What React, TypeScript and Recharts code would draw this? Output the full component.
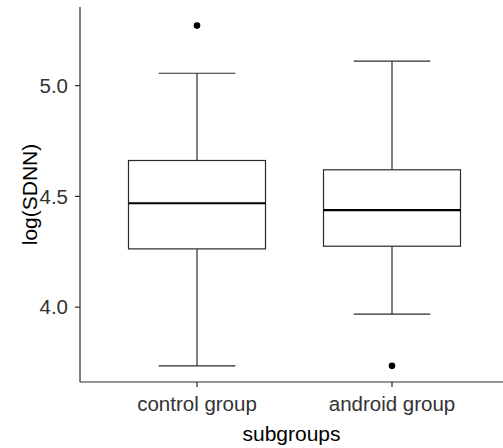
import { ComposedChart, Bar, Scatter, XAxis, YAxis, Label } from 'recharts';

// box statistics (log SDNN)
const groups = ['control group', 'android group'];
const lowerWhisker = [3.735, 3.968];
const q1 = [4.263, 4.275];
const median = [4.469, 4.438];
const q3 = [4.662, 4.62];
const upperWhisker = [5.056, 5.111];
const outliers = [5.271, 3.735];

const yTicks = [4.0, 4.5, 5.0];
const yDomain = [3.662, 5.355];

const data = groups.map((group, i) => ({
  group,
  range: [lowerWhisker[i], upperWhisker[i]],
  min: lowerWhisker[i],
  q1: q1[i],
  median: median[i],
  q3: q3[i],
  max: upperWhisker[i],
  outlier: outliers[i],
}));

const FONT = '"Liberation Sans", Arial, sans-serif';
const LINE = '#2b2b2b';

// draws whiskers, box and median inside the bar the library placed from min to max
const BoxShape = (props: any) => {
  const { x, y, width, height, payload } = props;
  const top = Math.min(y, y + height);
  const bottom = Math.max(y, y + height);
  const px = (v: number) =>
    bottom - ((v - payload.min) / (payload.max - payload.min)) * (bottom - top);
  const cx = x + width / 2;
  const cap = width * 0.28;
  const yQ1 = px(payload.q1);
  const yQ3 = px(payload.q3);
  const yMed = px(payload.median);
  return (
    <g>
      <line x1={cx} x2={cx} y1={top} y2={yQ3} stroke={LINE} strokeWidth={1.2} />
      <line x1={cx} x2={cx} y1={yQ1} y2={bottom} stroke={LINE} strokeWidth={1.2} />
      <line x1={cx - cap} x2={cx + cap} y1={top} y2={top} stroke={LINE} strokeWidth={1.2} />
      <line x1={cx - cap} x2={cx + cap} y1={bottom} y2={bottom} stroke={LINE} strokeWidth={1.2} />
      <rect x={x} y={yQ3} width={width} height={yQ1 - yQ3} fill="#fff" stroke={LINE} strokeWidth={1.2} />
      <line x1={x} x2={x + width} y1={yMed} y2={yMed} stroke="#000" strokeWidth={2.2} />
    </g>
  );
};

const Dot = (props: any) => <circle cx={props.cx} cy={props.cy} r={3.3} fill="#000" />;

export default function App() {
  return (
    <div style={{ width: 503, height: 448 }}>
      <style>{'body{margin:0}'}</style>
      <ComposedChart
        width={503}
        height={448}
        data={data}
        margin={{ top: 7, right: 0, bottom: 0, left: 0 }}
      >
        <XAxis
          dataKey="group"
          height={66}
          padding={{ left: 19.5, right: 13.5 }}
          axisLine={{ stroke: LINE, strokeWidth: 1.2 }}
          tickLine={{ stroke: LINE, strokeWidth: 1.2 }}
          tickSize={5}
          tickMargin={9}
          tick={{ fill: '#333', fontSize: 20.5, fontFamily: FONT }}
        >
          <Label
            value="subgroups"
            position="insideBottom"
            offset={7}
            style={{ fill: '#000', fontSize: 21, fontFamily: FONT }}
          />
        </XAxis>
        <YAxis
          type="number"
          width={80}
          domain={yDomain}
          ticks={yTicks}
          allowDataOverflow
          tickFormatter={(v: number) => v.toFixed(1)}
          axisLine={{ stroke: LINE, strokeWidth: 1.2 }}
          tickLine={{ stroke: LINE, strokeWidth: 1.2 }}
          tickSize={5}
          tickMargin={7}
          tick={{ fill: '#333', fontSize: 20.5, fontFamily: FONT }}
        >
          <Label
            value="log(SDNN)"
            angle={-90}
            position="insideLeft"
            offset={0}
            dx={30}
            style={{ fill: '#000', fontSize: 21, fontFamily: FONT, textAnchor: 'middle' }}
          />
        </YAxis>
        <Bar dataKey="range" barSize={137} shape={<BoxShape />} isAnimationActive={false} />
        <Scatter dataKey="outlier" shape={<Dot />} isAnimationActive={false} />
      </ComposedChart>
    </div>
  );
}
